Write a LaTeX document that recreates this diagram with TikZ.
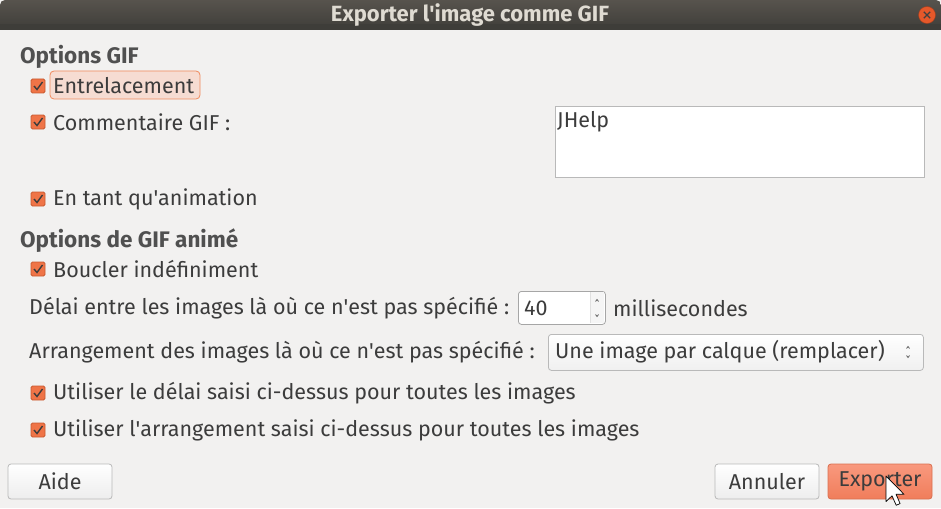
\documentclass[tikz,border=0pt]{standalone}
\usepackage{fontspec}
\setmainfont{Fira Sans}
\usetikzlibrary{shapes.geometric}
\definecolor{bg}{HTML}{F2F1F0}
\definecolor{txt}{HTML}{3C3C3C}
\definecolor{ttl}{HTML}{DFDBD2}
\definecolor{tbtop}{HTML}{57534D}
\definecolor{tbbot}{HTML}{3E3D39}
\definecolor{cbox}{HTML}{EF7447}
\definecolor{cboxd}{HTML}{C85A30}
\definecolor{brd}{HTML}{B9B9B9}
\definecolor{hl}{HTML}{F6DCD2}
\definecolor{hlb}{HTML}{F08A5D}
\definecolor{extop}{HTML}{F9997E}
\definecolor{exbot}{HTML}{F07D5B}
\definecolor{exb}{HTML}{D97050}
\definecolor{closec}{HTML}{E5582A}
\newcommand{\q}{\textquotesingle}
\tikzset{
  lbl/.style={anchor=west, inner sep=0pt, text=txt, font=\fontsize{21.5}{24}\selectfont},
  hdr/.style={anchor=west, inner sep=0pt, text=txt!90, font=\fontsize{22.5}{26}\selectfont\bfseries},
  chk/.style={draw=cboxd, fill=cbox, rounded corners=1.5pt, minimum width=14pt, minimum height=14pt, inner sep=0pt, line width=0.8pt},
  btn/.style={draw=brd, rounded corners=3pt, top color=white, bottom color=black!7, line width=0.8pt, minimum width=104pt, minimum height=35pt, inner sep=0pt, text=txt, font=\fontsize{21.5}{24}\selectfont},
}
\newcommand{\chkmark}[1]{\draw[txt, line width=1.4pt] ([xshift=-4pt,yshift=0pt]#1.center) -- ([xshift=-1pt,yshift=-3.5pt]#1.center) -- ([xshift=4.5pt,yshift=4pt]#1.center);}
\begin{document}
\begin{tikzpicture}[x=1pt,y=-1pt]
\useasboundingbox (0,0) rectangle (941,508);
\fill[bg] (0,0) rectangle (941,508);
% title bar
\shade[top color=tbtop, bottom color=tbbot, rounded corners=5pt] (0,30) -- (0,0) -- (941,0) -- (941,30) -- cycle;
\fill[tbbot] (0,24) rectangle (941,30);
\node[text=ttl, font=\fontsize{22}{24}\selectfont\bfseries, inner sep=0pt] (title) at (470,15) {Exporter l\q image comme GIF};
\node[circle, fill=closec, draw=closec!70!black, minimum size=17pt, inner sep=0pt] (close) at (927,15) {};
\draw[black!75, line width=1.1pt] ([shift={(-3.2,-3.2)}]close.center) -- ([shift={(3.2,3.2)}]close.center);
\draw[black!75, line width=1.1pt] ([shift={(-3.2,3.2)}]close.center) -- ([shift={(3.2,-3.2)}]close.center);

% Options GIF
\node[hdr] (h1) at (20,57) {Options GIF};
\draw[hlb, fill=hl, rounded corners=4pt, line width=0.8pt] (50,71) rectangle (200,99);
\node[chk] (c1) at (38,86) {}; \chkmark{c1}
\node[lbl] (l1) at (53,86) {Entrelacement};
\node[chk] (c2) at (38,122) {}; \chkmark{c2}
\node[lbl] (l2) at (53,122) {Commentaire GIF :};
\node[draw=brd, fill=white, line width=0.8pt, minimum width=369pt, minimum height=71pt, inner sep=0pt, anchor=north west] (ta) at (555,106) {};
\node[lbl] (jh) at (557,122) {JHelp};
\node[chk] (c3) at (38,199) {}; \chkmark{c3}
\node[lbl] (l3) at (53,199) {En tant qu\q animation};

% Options de GIF anime
\node[hdr] (h2) at (20,241) {Options de GIF animé};
\node[chk] (c4) at (38,269) {}; \chkmark{c4}
\node[lbl] (l4) at (53,269) {Boucler indéfiniment};
\node[lbl] (l5) at (29,308) {Délai entre les images là où ce n\q est pas spécifié :};
\node[draw=brd!90!black, fill=white, rounded corners=3pt, line width=0.8pt, minimum width=87pt, minimum height=33pt, inner sep=0pt, anchor=north west] (spin) at (518,291) {};
\draw[black!12, line width=0.8pt] (590,292) -- (590,323);
\fill[black!4] (590.5,292) rectangle (604,323);
\draw[txt!80, line width=0.8pt] (595.5,301.5) -- (597,299.5) -- (598.5,301.5);
\draw[txt!80, line width=0.8pt] (595.5,314.5) -- (597,316.5) -- (598.5,314.5);
\node[lbl] (v40) at (524,308) {40};
\node[lbl] (ms) at (613,308) {millisecondes};
\node[lbl] (l6) at (29,352) {Arrangement des images là où ce n\q est pas spécifié :};
\node[draw=brd, top color=white, bottom color=black!6, rounded corners=3pt, line width=0.8pt, minimum width=375pt, minimum height=36pt, inner sep=0pt, anchor=north west] (combo) at (548,334) {};
\node[lbl] (cv) at (555,352) {Une image par calque (remplacer)};
\draw[txt!80, line width=0.8pt] (906.5,348.5) -- (908,346.5) -- (909.5,348.5);
\draw[txt!80, line width=0.8pt] (906.5,355.5) -- (908,357.5) -- (909.5,355.5);
\node[chk] (c5) at (38,393) {}; \chkmark{c5}
\node[lbl] (l7) at (53,393) {Utiliser le délai saisi ci-dessus pour toutes les images};
\node[chk] (c6) at (38,430) {}; \chkmark{c6}
\node[lbl] (l8) at (53,430) {Utiliser l\q arrangement saisi ci-dessus pour toutes les images};

% buttons
\node[btn] (aide) at (60,481.5) {Aide};
\node[btn] (annuler) at (767,481.5) {Annuler};
\node[btn, draw=exb, top color=extop, bottom color=exbot] (exporter) at (880,481.5) {Exporter};
% cursor
\begin{scope}[shift={(886,476)}, scale=1.5]
\draw[black, fill=white, line width=0.7pt, line join=round] (0,0) -- (0,17) -- (4,13.2) -- (6.8,19.5) -- (9.4,18.4) -- (6.7,12.2) -- (12,12.2) -- cycle;
\end{scope}
\end{tikzpicture}
\end{document}
